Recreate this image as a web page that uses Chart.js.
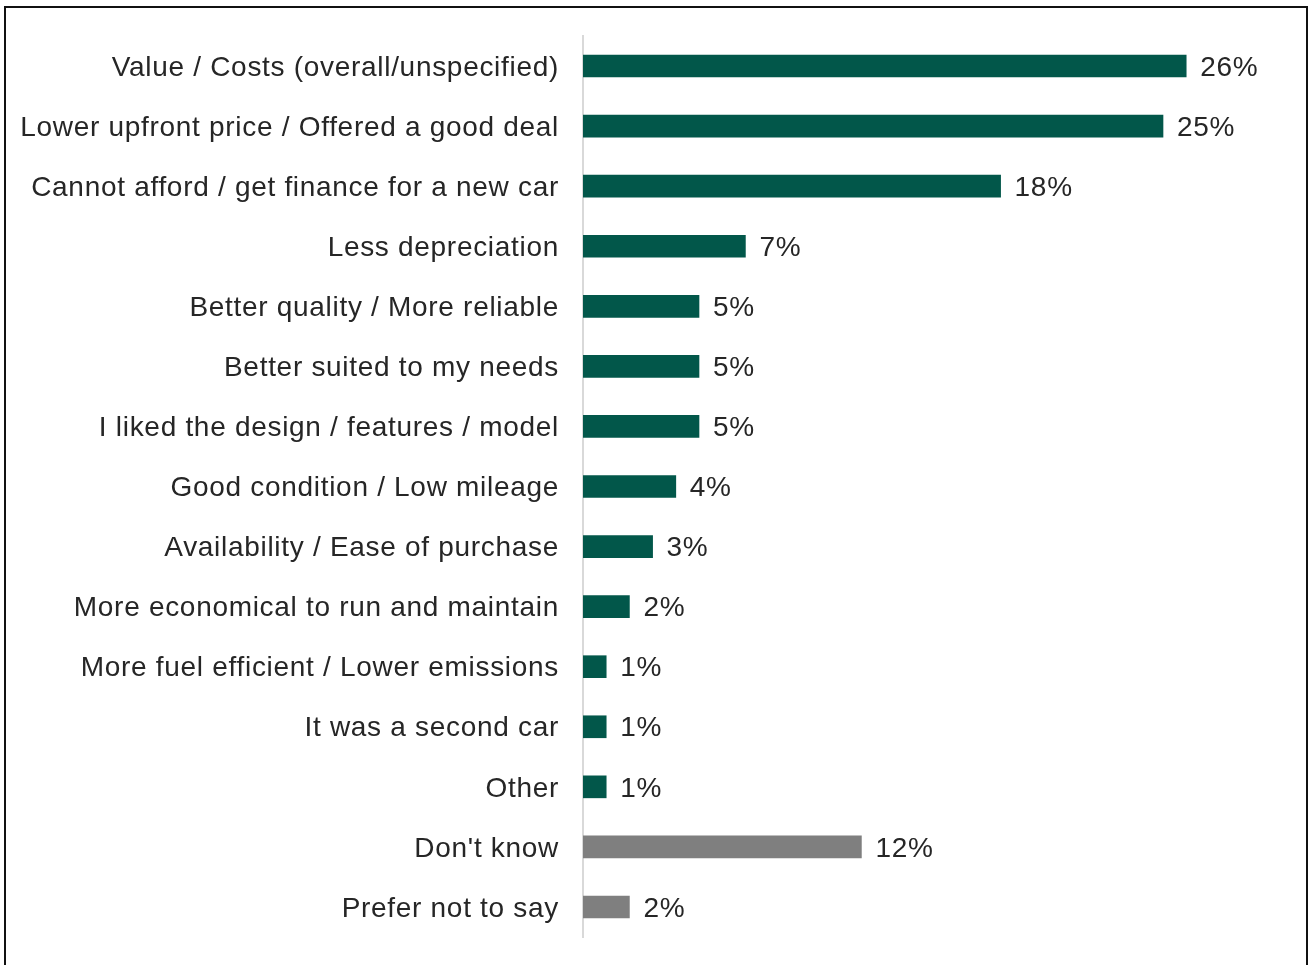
<!DOCTYPE html>
<html>
<head>
<meta charset="utf-8">
<script src="https://cdn.jsdelivr.net/npm/chart.js@4"></script>
<style>
  html, body { margin: 0; padding: 0; background: #fff; }
  #wrap { position: relative; width: 1312px; height: 965px; overflow: hidden; }
  #frame { position: absolute; left: 4px; top: 6px; width: 1304px; height: 1000px; border: 2px solid #111; box-sizing: border-box; }
  canvas { position: absolute; left: 0; top: 0; }
</style>
</head>
<body>
<div id="wrap">
  <div id="frame"></div>
  <canvas id="c" width="1312" height="965"></canvas>
</div>
<script>
const reasons = [
  "Value / Costs (overall/unspecified)",
  "Lower upfront price / Offered a good deal",
  "Cannot afford / get finance for a new car",
  "Less depreciation",
  "Better quality / More reliable",
  "Better suited to my needs",
  "I liked the design / features / model",
  "Good condition / Low mileage",
  "Availability / Ease of purchase",
  "More economical to run and maintain",
  "More fuel efficient / Lower emissions",
  "It was a second car",
  "Other",
  "Don't know",
  "Prefer not to say"
];
const shares = [26, 25, 18, 7, 5, 5, 5, 4, 3, 2, 1, 1, 1, 12, 2];
const barColours = shares.map((v, i) => i >= 13 ? "#7f7f7f" : "#02574a");

const FONT = "'Liberation Sans', Arial, sans-serif";
const SPACING = "0.7px";

// office-style text is a bit wider, so spread the letters a little
const spacing = {
  id: "spacing",
  beforeLayout(chart) { chart.ctx.letterSpacing = SPACING; },
  beforeDraw(chart) { chart.ctx.letterSpacing = SPACING; }
};

// percent labels to the right of each bar
const valueLabels = {
  id: "valueLabels",
  afterDatasetsDraw(chart) {
    const ctx = chart.ctx;
    const meta = chart.getDatasetMeta(0);
    ctx.save();
    ctx.letterSpacing = SPACING;
    ctx.font = "28px " + FONT;
    ctx.fillStyle = "#262626";
    ctx.textAlign = "left";
    ctx.textBaseline = "middle";
    meta.data.forEach((bar, i) => {
      ctx.fillText(shares[i] + "%", bar.x + 14, bar.y + 2);
    });
    ctx.restore();
  }
};

new Chart(document.getElementById("c"), {
  type: "bar",
  data: {
    labels: reasons,
    datasets: [{
      data: shares,
      backgroundColor: barColours,
      borderWidth: 0,
      barThickness: 22
    }]
  },
  options: {
    indexAxis: "y",
    responsive: false,
    animation: false,
    layout: { padding: { left: 0, right: 33, top: 36, bottom: 28 } },
    plugins: { legend: { display: false }, tooltip: { enabled: false } },
    scales: {
      x: { display: false, min: 0, max: 30 },
      y: {
        afterFit(axis) {
          axis.width = 583;
          // don't let label overhang push the plot area in
          axis.paddingTop = 0;
          axis.paddingBottom = 0;
        },
        grid: { display: false },
        border: { display: true, color: "#d9d9d9", width: 2 },
        ticks: {
          padding: 16,
          labelOffset: 2,
          color: "#262626",
          font: { family: FONT, size: 28 }
        }
      }
    }
  },
  plugins: [spacing, valueLabels]
});
</script>
</body>
</html>
